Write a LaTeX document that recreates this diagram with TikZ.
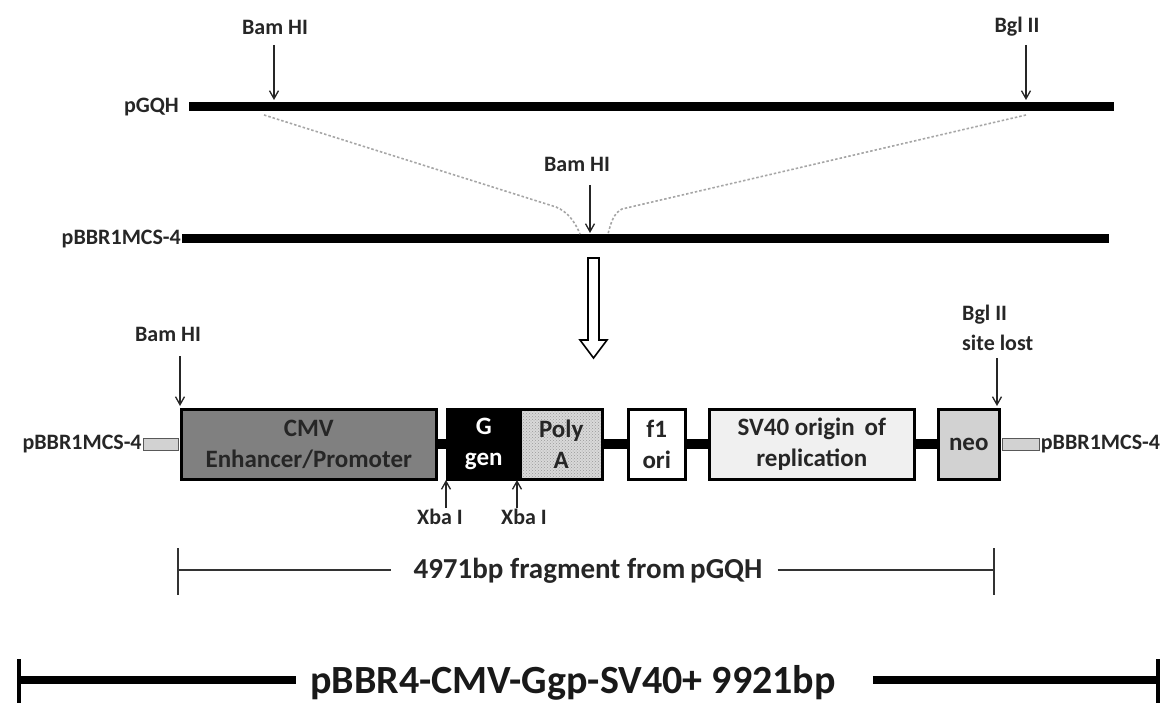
\documentclass[tikz,border=0pt]{standalone}
\usepackage{fontspec}
\setmainfont{Carlito}
\usetikzlibrary{patterns,arrows.meta}
\begin{document}
\begin{tikzpicture}[x=1pt,y=-1pt,
  lbl/.style={font=\fontsize{22}{30}\selectfont\bfseries, text=black!85, inner sep=0pt},
  seg/.style={draw=black, line width=2.5pt, minimum height=70pt, inner sep=0pt, anchor=north west,
    align=center, font=\fontsize{25}{31}\selectfont\bfseries, text=black!85},
  stub/.style={draw=gray!70!black, line width=1pt, fill=gray!35, minimum height=12pt, inner sep=0pt},
  dna/.style={line width=9pt},
  backbone/.style={line width=10pt},
  cut/.style={-{Straight Barb[length=8pt,width=9pt]}, line width=1.3pt, draw=black!85},
  dotline/.style={dash pattern=on 2.5pt off 2pt, line width=1.6pt, draw=gray!70},
  bar/.style={line width=1.4pt, draw=black!80},
  bigbar/.style={line width=8pt},
]
\useasboundingbox (0,0) rectangle (1175,703);

% ---- pGQH ----
\coordinate (g1) at (189,107);
\coordinate (g2) at (1114,107);
\draw[dna] (g1) -- (g2);
\node[lbl, anchor=east] (pgqh) at (179,107) {pGQH};
\node[lbl] (bamA) at (275,27) {Bam HI};
\coordinate (bamAs) at (274,45);
\coordinate (bamAe) at (274,100);
\draw[cut] (bamAs) -- (bamAe);
\node[lbl] (bglA) at (1017,27) {Bgl II};
\coordinate (bglAs) at (1026,45);
\coordinate (bglAe) at (1026,100);
\draw[cut] (bglAs) -- (bglAe);

% ---- pBBR1MCS-4 ----
\coordinate (b1) at (182,239);
\coordinate (b2) at (1109,239);
\draw[dna] (b1) -- (b2);
\node[lbl, anchor=east] (pbbr) at (181,239) {pBBR1MCS-4};
\node[lbl] (bamB) at (577,164) {Bam HI};
\coordinate (bamBs) at (590,185);
\coordinate (bamBe) at (590,233);
\draw[cut] (bamBs) -- (bamBe);

% ---- dotted insertion lines ----
\coordinate (dl1) at (264,115);
\coordinate (dl2) at (580,234);
\coordinate (dr1) at (1026,115);
\coordinate (dr2) at (608,234);
\draw[dotline] (dl1) -- (556,207) .. controls (568,212) and (575,222) .. (dl2);
\draw[dotline] (dr1) -- (622,209) .. controls (614,213) and (611,222) .. (dr2);

% ---- hollow arrow ----
\draw[line width=1.6pt, fill=white] (588,258) -- (599,258) -- (599,340) -- (607,340)
  -- (593.5,358) -- (580,340) -- (588,340) -- cycle;

% ---- construct ----
\node[seg, fill=black!50, minimum width=255pt] (cmv) at (180,408) {CMV\\Enhancer/Promoter};
\node[seg, fill=black, text=white, minimum width=73pt] (ggen) at (446,408) {G\\gen};
\node[seg, preaction={fill=gray!30}, pattern=crosshatch dots, pattern color=gray!80, minimum width=82pt] (polya) at (519,408) {Poly\\A};
\node[seg, fill=white, minimum width=57pt] (f1) at (627,408) {f1\\ori};
\node[seg, fill=gray!12, minimum width=205pt] (sv40) at (708,408) {SV40 origin\, of\\replication};
\node[seg, fill=gray!35, minimum width=61pt] (neo) at (937,408) {neo};

\draw[backbone] (cmv.east) -- (ggen.west);
\draw[backbone] (polya.east) -- (f1.west);
\draw[backbone] (f1.east) -- (sv40.west);
\draw[backbone] (sv40.east) -- (neo.west);

\node[stub, minimum width=35pt, anchor=east] (lstub) at ([xshift=-1.2pt]cmv.west) {};
\node[stub, minimum width=37pt, anchor=west] (rstub) at ([xshift=1.2pt]neo.east) {};
\node[lbl, anchor=east] (lp) at ([xshift=-1pt]lstub.west) {pBBR1MCS-4};
\node[lbl, anchor=west] (rp) at ([xshift=1pt]rstub.east) {pBBR1MCS-4};

\node[lbl] (bamC) at (168,334) {Bam HI};
\coordinate (bamCs) at (180,356);
\coordinate (bamCe) at (180,406);
\draw[cut] (bamCs) -- (bamCe);

\node[lbl, anchor=north west, align=left] (bglB) at (962,305) {Bgl II\\site lost};
\coordinate (bglBs) at (997,358);
\coordinate (bglBe) at (997,406);
\draw[cut] (bglBs) -- (bglBe);

\node[lbl] (xba1) at (440,517) {Xba I};
\node[lbl] (xba2) at (524,517) {Xba I};
\coordinate (x1s) at (446,508);
\coordinate (x1e) at (446,480);
\coordinate (x2s) at (517,508);
\coordinate (x2e) at (517,480);
\draw[cut] (x1s) -- (x1e);
\draw[cut] (x2s) -- (x2e);

% ---- 4971 bp bracket ----
\node[font=\fontsize{29}{32}\selectfont\bfseries, text=black!85, inner sep=0pt] (frag) at (588,571) {4971bp fragment from\,pGQH};
\coordinate (fl) at (178,570);
\coordinate (fr) at (994,570);
\draw[bar] (178,548) -- (178,595);
\draw[bar] (994,548) -- (994,595);
\draw[bar] (fl) -- ([xshift=-22pt]frag.west |- fl);
\draw[bar] ([xshift=15pt]frag.east |- fr) -- (fr);

% ---- total construct bracket ----
\node[font=\fontsize{40}{44}\selectfont\bfseries, text=black!90, inner sep=0pt] (total) at (573,683) {pBBR4-CMV-Ggp-SV40+ 9921bp};
\coordinate (tl) at (19,680);
\coordinate (tr) at (1158,680);
\draw[line width=4pt] (19,659) -- (19,703);
\draw[line width=4pt] (1158,659) -- (1158,703);
\draw[bigbar] (tl) -- ([xshift=-14pt]total.west |- tl);
\draw[bigbar] ([xshift=37pt]total.east |- tr) -- (tr);
\end{tikzpicture}
\end{document}
